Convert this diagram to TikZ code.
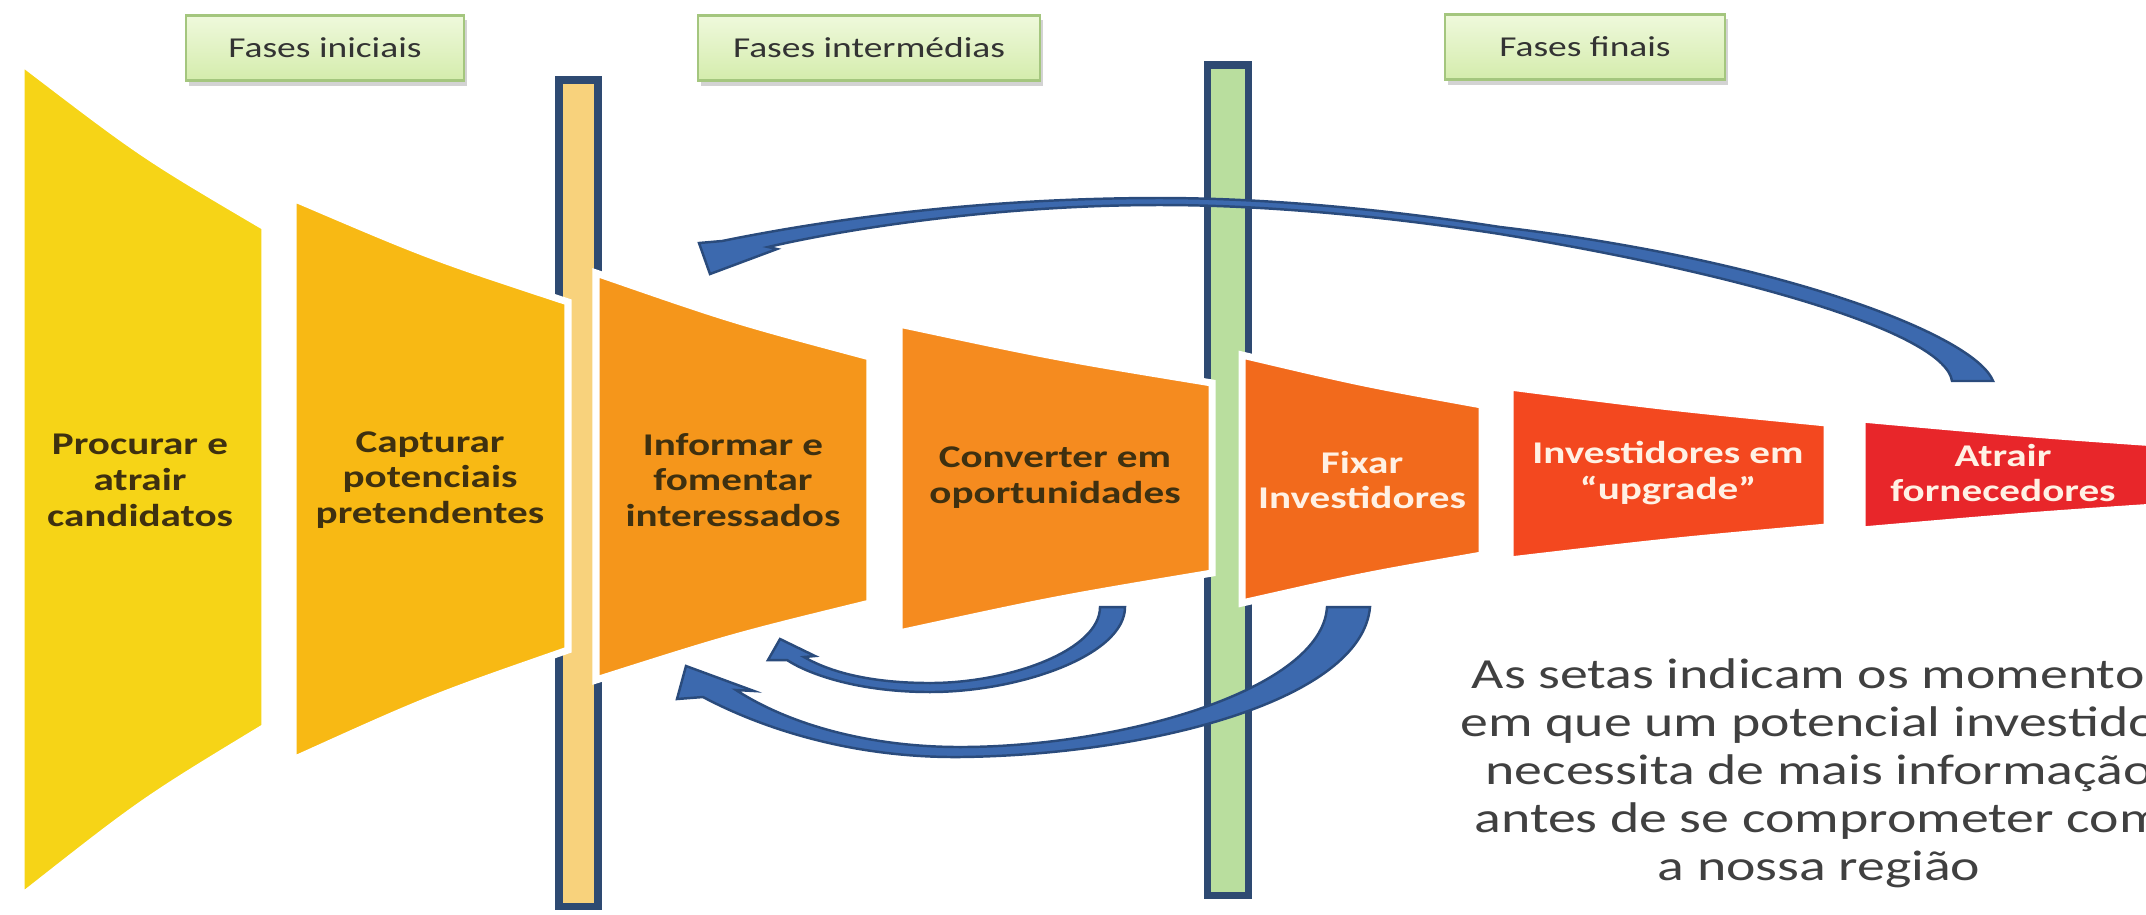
\documentclass[tikz,border=0pt]{standalone}
\usepackage{fontspec}
\setmainfont{Carlito}[FakeStretch=1.3]
\usetikzlibrary{shadows}

\definecolor{procurar}{HTML}{F6D417}
\definecolor{capturar}{HTML}{F8B914}
\definecolor{informar}{HTML}{F5961B}
\definecolor{converter}{HTML}{F58B1F}
\definecolor{fixar}{HTML}{F26A1C}
\definecolor{upgrade}{HTML}{F3481F}
\definecolor{fornec}{HTML}{E8262A}
\definecolor{barorange}{HTML}{F8D27C}
\definecolor{bargreen}{HTML}{B9DE9E}
\definecolor{baredge}{HTML}{2E4A72}
\definecolor{arrowblue}{HTML}{3C69AE}
\definecolor{arrowedge}{HTML}{2A4B7C}
\definecolor{phasetop}{HTML}{EFF9DC}
\definecolor{phasebot}{HTML}{D4ECAC}
\definecolor{phaseedge}{HTML}{A4C67E}
\definecolor{lbldark}{HTML}{3E3010}
\definecolor{lbllight}{HTML}{FFF1E4}
\definecolor{notegray}{HTML}{404040}

% one piece of the funnel: colour, x left, x right, top left, top right, bottom left, bottom right
\newcommand{\funnelpiece}[7]{\fill[#1, draw=white, line width=2pt] (#2,#4) .. controls ({#2+0.5*(#3-#2)},{#4+0.565*(#5-#4)}) .. (#3,#5) -- (#3,#7) .. controls ({#2+0.5*(#3-#2)},{#6+0.565*(#7-#6)}) .. (#2,#6) -- cycle;}

\tikzset{
	phasebox/.style={draw=phaseedge, line width=0.6pt, top color=phasetop, bottom color=phasebot, minimum height=0.65cm, inner sep=0pt, font=\fontsize{8.2}{9}\selectfont, text=black!80, drop shadow={opacity=0.35, shadow xshift=0.03cm, shadow yshift=-0.05cm}},
	stagebar/.style={draw=baredge, line width=2pt},
	flowarrow/.style={fill=arrowblue, draw=arrowedge, line width=0.7pt},
	lbl/.style={align=center, font=\bfseries\fontsize{9}{10.2}\selectfont, text=lbldark},
	lblw/.style={lbl, text=lbllight}
}

\begin{document}
\begin{tikzpicture}[x=0.01cm, y=-0.01cm]
		\useasboundingbox (0,0) rectangle (2146,914);
		\clip (0,0) rectangle (2146,914);
		%%%%% PHASES %%%%%
		\node[phasebox, minimum width=2.78cm] (iniciais) at (325,48) {Fases iniciais};
		\node[phasebox, minimum width=3.42cm] (intermedias) at (869,48) {Fases intermédias};
		\node[phasebox, minimum width=2.79cm] (finais) at (1585,47) {Fases finais};
		
		%%%%% BARS %%%%%
		\draw[stagebar, fill=barorange] (559,80) rectangle (598,906);
		\draw[stagebar, fill=bargreen] (1207,65) rectangle (1248,895);
		
		%%%%% FUNNEL %%%%%
		\funnelpiece{procurar}{21}{265}{62}{227}{897}{727}
		\funnelpiece{capturar}{293}{568}{198}{302}{760}{650}
		\funnelpiece{informar}{596}{870}{273}{357}{680}{603}
		\funnelpiece{converter}{899}{1212}{324}{383}{633}{573}
		\funnelpiece{fixar}{1242}{1482}{355}{405}{603}{555}
		\funnelpiece{upgrade}{1510}{1827}{387}{423}{560}{527}
		\funnelpiece{fornec}{1862}{2200}{419}{446}{530}{504}
		
		\node[lbl] (procura) at (140,480) {Procurar e\\atrair\\candidatos};
		\node[lbl] (captura) at (430,480) {Capturar\\potenciais\\pretendentes};
		\node[lbl] (informa) at (733,480) {Informar e\\fomentar\\interessados};
		\node[lbl] (converte) at (1055,478) {Converter em\\oportunidades};
		\node[lblw] (fixa) at (1362,480) {Fixar\\Investidores};
		\node[lblw] (investe) at (1668,473) {Investidores em\\“upgrade”};
		\node[lblw] (atrai) at (2003,473) {Atrair\\fornecedores};
		
		%%%%% ARROWS %%%%%
		% long one, back over the top
		\draw[flowarrow] (1993,381) .. controls (1975,335) and (1780,260) .. (1500,227)
			.. controls (1390,210) and (1270,198) .. (1160,198)
			.. controls (1000,198) and (850,215) .. (722,241)
			-- (699,243) -- (710,274) -- (777,249) -- (768,247)
			.. controls (850,228) and (1000,205) .. (1160,205)
			.. controls (1270,205) and (1390,217) .. (1500,234)
			.. controls (1760,277) and (1945,335) .. (1952,381) -- cycle;
		% short one, under
		\draw[flowarrow] (1125,607) .. controls (1125,655) and (1020,692) .. (930,692)
			.. controls (860,692) and (810,675) .. (787,660)
			-- (768,660) -- (780,639) -- (815,656) -- (804,657)
			.. controls (830,672) and (870,683) .. (930,683)
			.. controls (1010,683) and (1100,650) .. (1100,607) -- cycle;
		% wide one, under
		\draw[flowarrow] (1370,607) .. controls (1362,700) and (1150,755) .. (960,757)
			.. controls (840,758) and (750,722) .. (703,697)
			-- (677,699) -- (686,666) -- (754,691) -- (736,690)
			.. controls (790,725) and (870,747) .. (960,747)
			.. controls (1120,747) and (1322,690) .. (1327,607) -- cycle;
		
		%%%%% NOTE %%%%%
		\node[align=center, font=\fontsize{12.2}{13.65}\selectfont, text=notegray] (nota) at (1819,773)
			{As setas indicam os momentos\\em que um potencial investidor\\necessita de mais informação\\antes de se comprometer com\\a nossa região};
	\end{tikzpicture}
\end{document}
